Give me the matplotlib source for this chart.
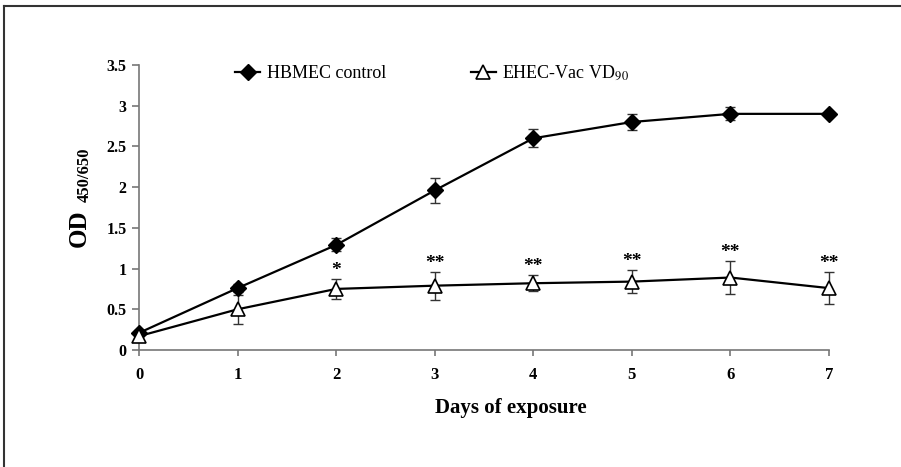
import matplotlib
matplotlib.use("Agg")
import matplotlib.pyplot as plt
from matplotlib.lines import Line2D

plt.rcParams['font.family'] = ['Liberation Serif', 'DejaVu Serif']
plt.rcParams['mathtext.fontset'] = 'stix'

days = [0, 1, 2, 3, 4, 5, 6, 7]
hbmec = [0.21, 0.76, 1.29, 1.96, 2.60, 2.80, 2.90, 2.90]
hbmec_err = [0.03, 0.05, 0.08, 0.15, 0.11, 0.10, 0.08, 0.0]
ehec = [0.17, 0.50, 0.75, 0.79, 0.82, 0.84, 0.89, 0.76]
ehec_err = [0.05, 0.18, 0.12, 0.17, 0.10, 0.14, 0.20, 0.20]
stars = ['', '', '*', '**', '**', '**', '**', '**']
yticks = [0, 0.5, 1, 1.5, 2, 2.5, 3, 3.5]
ytick_labels = ['0', '0.5', '1', '1.5', '2', '2.5', '3', '3.5']

W, H = 901, 467
fig = plt.figure(figsize=(W / 100, H / 100), dpi=100)
ax = fig.add_axes([139 / W, 1 - 350 / H, 690 / W, 285 / H])

ax.errorbar(days, hbmec, yerr=hbmec_err, fmt='none', ecolor='#333333',
            elinewidth=1.0, capsize=3.6, capthick=1.0, clip_on=False, zorder=2)
ax.errorbar(days, ehec, yerr=ehec_err, fmt='none', ecolor='#333333',
            elinewidth=1.0, capsize=3.6, capthick=1.0, clip_on=False, zorder=2)
l1, = ax.plot(days, hbmec, color='black', lw=1.6, marker='D', markersize=8.5,
              markerfacecolor='black', markeredgecolor='black', clip_on=False, zorder=3,
              label='HBMEC control')
l2, = ax.plot(days, ehec, color='black', lw=1.6, marker='^', markersize=10,
              markerfacecolor='white', markeredgecolor='black', markeredgewidth=1.2,
              clip_on=False, zorder=4, label='EHEC-Vac VD$_{90}$')

for d, v, e, s in zip(days, ehec, ehec_err, stars):
    if s:
        ax.annotate(s, (d, v + e), xytext=(0, 0), textcoords='offset points',
                    ha='center', va='bottom', fontsize=14, fontweight='bold')

ax.set_xlim(0, 7)
ax.set_ylim(0, 3.5)
ax.set_xticks(days)
ax.set_xticklabels([str(d) for d in days], fontsize=12, fontweight='bold')
ax.set_yticks(yticks)
ax.set_yticklabels(ytick_labels, fontsize=11.5, fontweight='bold')
for s in ['top', 'right']:
    ax.spines[s].set_visible(False)
for s in ['left', 'bottom']:
    ax.spines[s].set_color('#777777')
    ax.spines[s].set_linewidth(1.2)
ax.tick_params(axis='y', direction='out', length=5, width=1.2, color='#777777', pad=4)
ax.tick_params(axis='x', direction='out', length=4, width=1.2, color='#777777', pad=8)

leg = ax.legend(handles=[l1, l2], ncol=2, frameon=False, loc='center',
                bbox_to_anchor=(0.425, 0.972), fontsize=13, handlelength=1.4,
                handletextpad=0.35, columnspacing=4.7, borderaxespad=0)

fig.text(511 / W, 1 - 408 / H, 'Days of exposure', ha='center', va='center',
         fontsize=15, fontweight='bold')
fig.text(79 / W, 1 - 228 / H, 'OD', rotation=90, ha='center', va='center',
         fontsize=18, fontweight='bold')
fig.text(85 / W, 1 - 175 / H, '450/650', rotation=90, ha='center', va='center',
         fontsize=12, fontweight='bold')

# outer frame (top and left edges)
fig.add_artist(Line2D([4 / W, 4 / W], [0, 1 - 6 / H], transform=fig.transFigure,
                      color='#333333', lw=1.5))
fig.add_artist(Line2D([4 / W, 1], [1 - 6 / H, 1 - 6 / H], transform=fig.transFigure,
                      color='#333333', lw=1.5))

fig.savefig('out.png', dpi=100, facecolor='white')
